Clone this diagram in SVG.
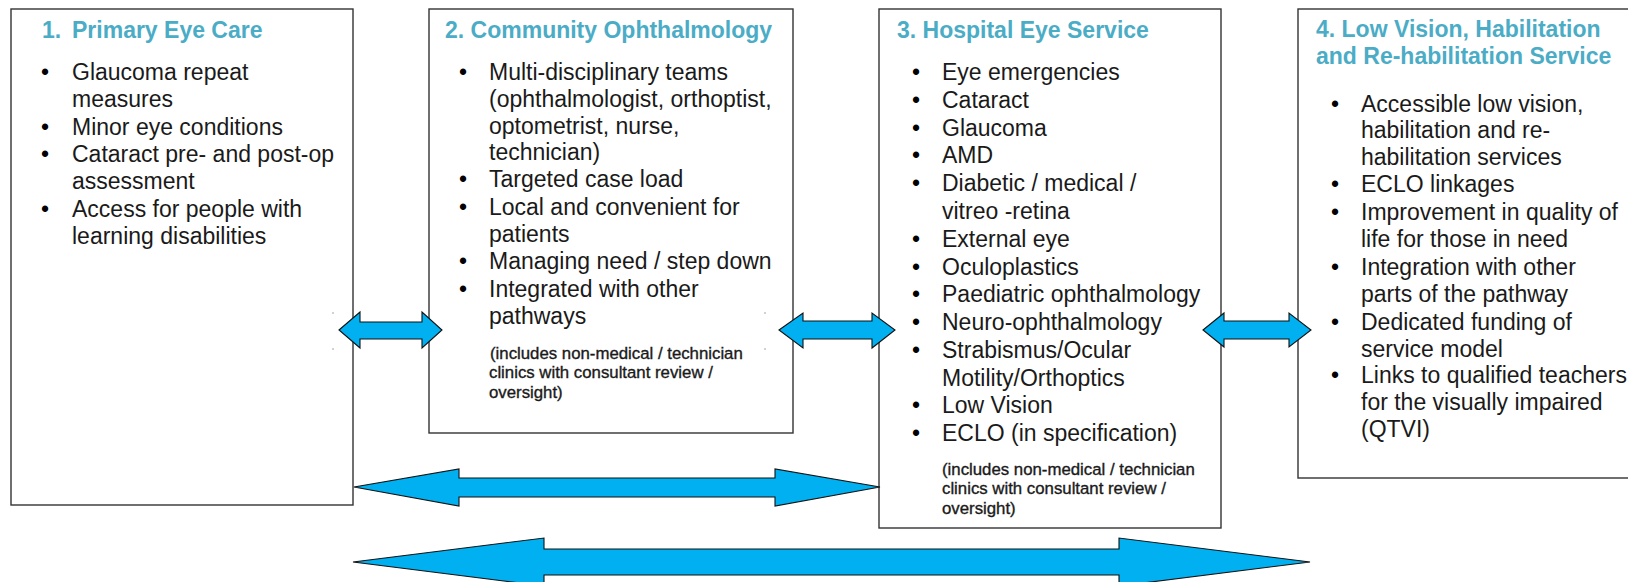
<svg xmlns="http://www.w3.org/2000/svg" width="1628" height="582" viewBox="0 0 1628 582">
<style>
.box{fill:#fff;stroke:#333;stroke-width:1.4}
.t{font-family:"Liberation Sans",Arial,sans-serif;font-size:23px;font-weight:bold;fill:#4BACC6}
.b{font-family:"Liberation Sans",Arial,sans-serif;font-size:23px;fill:#1a1a1a}
.bl{font-family:"Liberation Sans",Arial,sans-serif;font-size:23px;fill:#000;text-anchor:middle}
.n{font-family:"Liberation Sans",Arial,sans-serif;font-size:16.8px;fill:#1a1a1a;stroke:#1a1a1a;stroke-width:0.35}
.arr{fill:#00B0F0;stroke:#111;stroke-width:1.1;stroke-linejoin:miter}
.dot{fill:#999}
</style>
<g id="node1">
<rect class="box" x="11" y="9" width="342" height="496"/>
<text class="t" x="42" y="38">1.</text><text class="t" x="72" y="38">Primary Eye Care</text>
<text class="bl" x="45" y="80">•</text><text class="b" x="72" y="80">Glaucoma repeat</text>
<text class="b" x="72" y="107">measures</text>
<text class="bl" x="45" y="135">•</text><text class="b" x="72" y="135">Minor eye conditions</text>
<text class="bl" x="45" y="162">•</text><text class="b" x="72" y="162">Cataract pre- and post-op</text>
<text class="b" x="72" y="189">assessment</text>
<text class="bl" x="45" y="217">•</text><text class="b" x="72" y="217">Access for people with</text>
<text class="b" x="72" y="244">learning disabilities</text>
</g>
<g id="node2">
<rect class="box" x="429" y="9" width="364" height="424"/>
<text class="t" x="445" y="38">2. Community Ophthalmology</text>
<text class="bl" x="463" y="80">•</text><text class="b" x="489" y="80">Multi-disciplinary teams</text>
<text class="b" x="489" y="107">(ophthalmologist, orthoptist,</text>
<text class="b" x="489" y="134">optometrist, nurse,</text>
<text class="b" x="489" y="160">technician)</text>
<text class="bl" x="463" y="187">•</text><text class="b" x="489" y="187">Targeted case load</text>
<text class="bl" x="463" y="215">•</text><text class="b" x="489" y="215">Local and convenient for</text>
<text class="b" x="489" y="242">patients</text>
<text class="bl" x="463" y="269">•</text><text class="b" x="489" y="269">Managing need / step down</text>
<text class="bl" x="463" y="297">•</text><text class="b" x="489" y="297">Integrated with other</text>
<text class="b" x="489" y="324">pathways</text>
<text class="n" x="490" y="359">(includes non-medical / technician</text>
<text class="n" x="489" y="378">clinics with consultant review /</text>
<text class="n" x="489" y="398">oversight)</text>
</g>
<g id="node3">
<rect class="box" x="879" y="9" width="342" height="519"/>
<text class="t" x="897" y="38">3. Hospital Eye Service</text>
<text class="bl" x="916" y="80">•</text><text class="b" x="942" y="80">Eye emergencies</text>
<text class="bl" x="916" y="108">•</text><text class="b" x="942" y="108">Cataract</text>
<text class="bl" x="916" y="136">•</text><text class="b" x="942" y="136">Glaucoma</text>
<text class="bl" x="916" y="163">•</text><text class="b" x="942" y="163">AMD</text>
<text class="bl" x="916" y="191">•</text><text class="b" x="942" y="191">Diabetic / medical /</text>
<text class="b" x="942" y="219">vitreo -retina</text>
<text class="bl" x="916" y="247">•</text><text class="b" x="942" y="247">External eye</text>
<text class="bl" x="916" y="275">•</text><text class="b" x="942" y="275">Oculoplastics</text>
<text class="bl" x="916" y="302">•</text><text class="b" x="942" y="302">Paediatric ophthalmology</text>
<text class="bl" x="916" y="330">•</text><text class="b" x="942" y="330">Neuro-ophthalmology</text>
<text class="bl" x="916" y="358">•</text><text class="b" x="942" y="358">Strabismus/Ocular</text>
<text class="b" x="942" y="386">Motility/Orthoptics</text>
<text class="bl" x="916" y="413">•</text><text class="b" x="942" y="413">Low Vision</text>
<text class="bl" x="916" y="441">•</text><text class="b" x="942" y="441">ECLO (in specification)</text>
<text class="n" x="942" y="475">(includes non-medical / technician</text>
<text class="n" x="942" y="494">clinics with consultant review /</text>
<text class="n" x="942" y="514">oversight)</text>
</g>
<g id="node4">
<rect class="box" x="1298" y="9" width="345" height="469"/>
<text class="t" x="1316" y="37">4. Low Vision, Habilitation</text>
<text class="t" x="1316" y="64">and Re-habilitation Service</text>
<text class="bl" x="1335" y="112">•</text><text class="b" x="1361" y="112">Accessible low vision,</text>
<text class="b" x="1361" y="138">habilitation and re-</text>
<text class="b" x="1361" y="165">habilitation services</text>
<text class="bl" x="1335" y="192">•</text><text class="b" x="1361" y="192">ECLO linkages</text>
<text class="bl" x="1335" y="220">•</text><text class="b" x="1361" y="220">Improvement in quality of</text>
<text class="b" x="1361" y="247">life for those in need</text>
<text class="bl" x="1335" y="275">•</text><text class="b" x="1361" y="275">Integration with other</text>
<text class="b" x="1361" y="302">parts of the pathway</text>
<text class="bl" x="1335" y="330">•</text><text class="b" x="1361" y="330">Dedicated funding of</text>
<text class="b" x="1361" y="357">service model</text>
<text class="bl" x="1335" y="383">•</text><text class="b" x="1361" y="383">Links to qualified teachers</text>
<text class="b" x="1361" y="410">for the visually impaired</text>
<text class="b" x="1361" y="437">(QTVI)</text>
</g>
<g id="connectors">
<polygon class="arr" points="339,330 360,312 360,322 422,322 422,312 442,330 422,348 422,339 360,339 360,348"/>
<polygon class="arr" points="779,330 803,313 803,321 872,321 872,313 895,330 872,348 872,339 803,339 803,348"/>
<polygon class="arr" points="1203,330 1224,313 1224,321 1289,321 1289,313 1311,330 1289,347 1289,339 1224,339 1224,347"/>
<polygon class="arr" points="354,487 459,469 459,478 775,478 775,469 880,487 775,506 775,497 459,497 459,506"/>
<polygon class="arr" points="353,562 544,538 544,549 1119,549 1119,538 1310,562 1119,586 1119,575 544,575 544,586"/>
</g>
<circle class="dot" cx="333" cy="313" r="0.8"/>
<circle class="dot" cx="333" cy="349" r="0.8"/>
<circle class="dot" cx="765" cy="313" r="0.8"/>
<circle class="dot" cx="765" cy="349" r="0.8"/>
</svg>
